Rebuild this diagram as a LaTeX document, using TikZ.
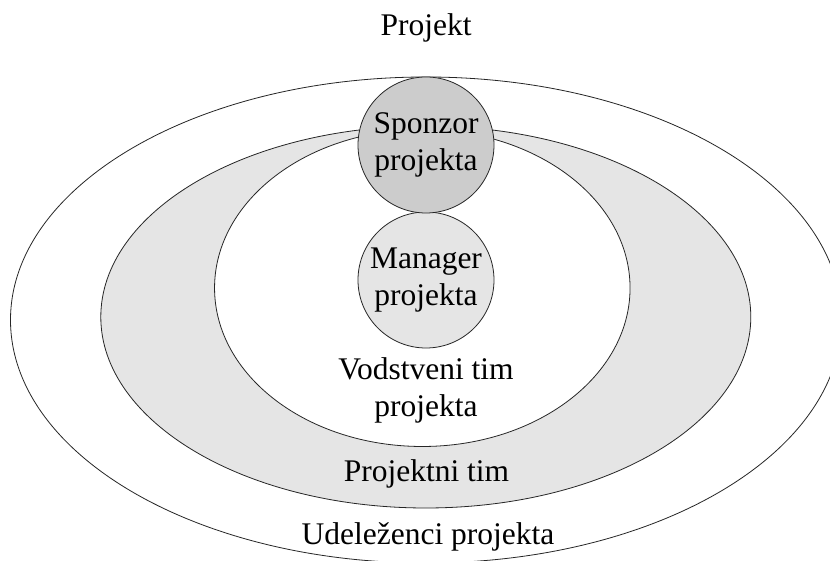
\documentclass[tikz,border=0pt]{standalone}
\usepackage{fontspec}
\setmainfont{Liberation Serif}
\usetikzlibrary{shapes.geometric}
\definecolor{darkfill}{gray}{0.80}
\definecolor{lightfill}{gray}{0.90}
\tikzset{
  ring/.style={ellipse, draw=black!85, line width=0.8pt, inner sep=0pt},
  disc/.style={circle, draw=black!85, line width=0.8pt, inner sep=0pt, minimum size=136pt, align=center},
  lbl/.style={anchor=base, inner sep=0pt, align=center},
}
\begin{document}
\begin{tikzpicture}[x=1pt,y=1pt,font=\fontsize{31.5}{37.5}\selectfont]
\useasboundingbox (0,0) rectangle (830,561);
\clip (0,0) rectangle (830,561);
\fill[white] (0,0) rectangle (830,561);
% outer ellipse: Udelezenci projekta
\node[ring, fill=white, minimum width=831pt, minimum height=486pt] (outer) at (426,241) {};
% middle ellipse: Projektni tim
\node[ring, fill=lightfill, minimum width=650pt, minimum height=382pt] (middle) at (425.8,244) {};
% inner ellipse: Vodstveni tim projekta
\node[ring, fill=white, minimum width=415.5pt, minimum height=317pt] (inner) at (422.3,273) {};
% circles
\node[disc, fill=lightfill] (manager) at (426,281) {Manager\\projekta};
\node[disc, fill=darkfill] (sponzor) at (426,416) {Sponzor\\projekta};
% labels
\node[lbl] (projekt) at (426,525) {Projekt};
\node[lbl] (vodstveni) at (426,181.7) {Vodstveni tim};
\node[lbl] (vodstveni2) at (426,144.3) {projekta};
\node[lbl] (projtim) at (426.5,79.3) {Projektni tim};
\node[lbl] (udelezenci) at (428,16) {Udeleženci projekta};
\end{tikzpicture}
\end{document}
